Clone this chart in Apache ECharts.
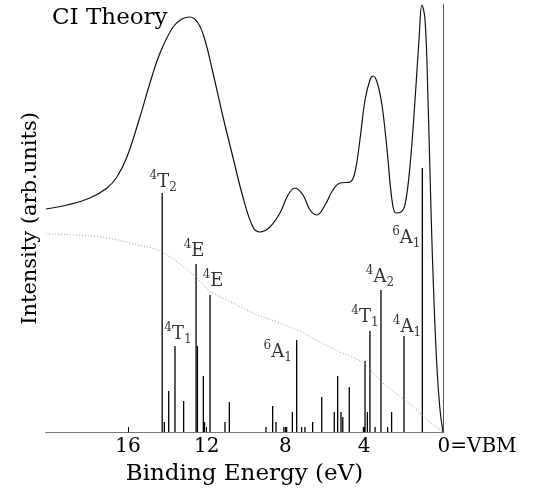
<!DOCTYPE html>
<html>
<head>
<meta charset="utf-8">
<script src="https://cdn.jsdelivr.net/npm/echarts@6/dist/echarts.min.js"></script>
<style>html,body{margin:0;padding:0;background:#fff;}#c{width:549px;height:494px;}</style>
</head>
<body>
<div id="c"></div>
<script>
// Smooth CI spectrum (binding energy eV, intensity arb.)
const curveEnergy = [20.16,19.09,17.93,17.06,16.56,16.05,15.39,14.88,14.37,13.71,13.26,12.85,12.44,12.09,11.68,11.17,10.67,10.16,9.65,9.29,8.79,8.28,7.87,7.52,7.11,6.75,6.40,5.99,5.59,5.23,4.72,4.47,4.22,3.96,3.71,3.56,3.35,3.10,2.84,2.59,2.39,2.13,1.93,1.68,1.42,1.22,1.07,0.91,0.76,0.61,0.46,0.30,0.15,0];
const curveIntensity = [223,227,234,244,255,275,315,349,379,405,413,415,409,392,359,315,275,235,205,200,205,219,237,244,237,222,217,227,242,249,250,260,292,332,352,356,350,327,282,232,219,220,227,265,332,392,427,412,332,222,132,62,22,0];
// Dotted background
const bgEnergy = [20.16,17.42,15.24,14.37,13.36,12.54,11.83,10.67,9.65,8.43,7.41,6.25,5.23,4.06,3.05,1.68,0.66,0];
const bgIntensity = [198,195,186,181,168,155,141,129,119,110,102,90,80,69,49,28,10,0];
// Multiplet sticks
const stickEnergy = [14.26,14.15,13.93,13.61,13.17,12.54,12.47,12.17,12.11,11.83,11.07,10.85,8.99,8.65,8.48,8.08,7.94,7.65,7.43,7.18,7.01,6.62,6.16,5.52,5.35,5.18,5.09,4.76,4.04,3.96,3.84,3.71,3.45,3.15,2.81,2.61,1.98,1.05];
const stickHeight = [239,10,41,86,31,168,86,56,10,137,10,30,5,26,10,5,5,20,92,5,5,10,35,20,56,20,15,45,5,71,20,101,5,142,5,20,96,264];
const stickLabel = ['4T2','','','4T1','','4E','','','','4E','','','','','','','','','6A1','','','','','','','','','','','','','4T1','','4A2','','','4A1','6A1'];
const xTicks = [0,4,8,12,16];
const titleText = 'CI Theory';
const xName = 'Binding Energy (eV)';
const yName = 'Intensity (arb.units)';

const FONT = 'DejaVu Serif';
const labelOffsets = {0:[1,-11],3:[3,-12],5:[-2,-13],9:[3,-14],18:[-19,12],31:[-5,-14],33:[-1,-13],36:[3,-9],37:[-16,70]};

function richLabel(s){
  const m = s.match(/^(\d)([A-Z]+)(\d?)$/);
  let out = '{sup|' + m[1] + '}{main|' + m[2] + '}';
  if (m[3]) out += '{sub|' + m[3] + '}';
  return out;
}

const labelData = [];
stickLabel.forEach((l,i)=>{ if(l) labelData.push({value:[stickEnergy[i], stickHeight[i]], name:l,
  label:{offset: labelOffsets[i] || [0,-12]}}); });

const chart = echarts.init(document.getElementById('c'), null, {renderer:'canvas'});
chart.setOption({
  animation:false,
  backgroundColor:'#fff',
  title:{text:titleText, left:52, top:7, padding:0, textStyle:{fontFamily:FONT, fontSize:23, fontWeight:'normal', color:'#000'}},
  grid:{left:46, right:106, top:5, bottom:62},
  xAxis:[{type:'value', inverse:true, min:0, max:20.16, interval:4,
    axisLine:{show:true, onZero:false, lineStyle:{color:'#000', width:1}},
    axisTick:{show:true, inside:true, length:5, customValues:[4,8,12,16], lineStyle:{color:'#000'}},
    axisLabel:{customValues:xTicks, fontFamily:FONT, fontSize:20, color:'#000', margin:5,
      formatter:v=> v===0 ? '{z|0=VBM}' : String(v),
      rich:{z:{fontFamily:FONT, fontSize:20, color:'#000', padding:[0,0,0,68]}}},
    splitLine:{show:false},
    name:xName, nameLocation:'middle', nameGap:31,
    nameTextStyle:{fontFamily:FONT, fontSize:23, color:'#000'}},
   {type:'value', position:'top', inverse:true, min:0, max:20.16,
    axisLine:{show:true, lineStyle:{color:'#777', width:1}}, axisTick:{show:false}, axisLabel:{show:false}, splitLine:{show:false}}],
  yAxis:[{type:'value', min:0, max:427,
    axisLine:{show:true, lineStyle:{color:'#000', width:1}}, axisTick:{show:false}, axisLabel:{show:false}, splitLine:{show:false},
    name:yName, nameLocation:'middle', nameGap:5,
    nameTextStyle:{fontFamily:FONT, fontSize:21, color:'#000'}},
   {type:'value', position:'right', min:0, max:427,
    axisLine:{show:true, lineStyle:{color:'#555', width:1}}, axisTick:{show:false}, axisLabel:{show:false}, splitLine:{show:false}}],
  series:[
    {type:'line', data:bgEnergy.map((e,i)=>[e,bgIntensity[i]]), smooth:0.4, showSymbol:false,
     lineStyle:{color:'#999', width:1, type:[1,2]}},
    {type:'line', data:curveEnergy.map((e,i)=>[e,curveIntensity[i]]), smooth:0.4, showSymbol:false,
     lineStyle:{color:'#111', width:1.2}},
    {type:'custom', data:stickEnergy.map((e,i)=>[e,stickHeight[i]]),
     renderItem:(params, api)=>{
       const p0 = api.coord([api.value(0), 0]);
       const p1 = api.coord([api.value(0), api.value(1)]);
       return {type:'line', shape:{x1:p0[0], y1:p0[1], x2:p1[0], y2:p1[1]}, style:{stroke:'#000', lineWidth:1.3}};
     }},
    {type:'scatter', data:labelData, symbolSize:0, silent:true,
     label:{show:true, position:'inside', formatter:p=>richLabel(p.name),
       rich:{
         sup:{fontFamily:FONT, fontSize:12, color:'#000', verticalAlign:'top', lineHeight:24},
         main:{fontFamily:FONT, fontSize:18, color:'#000', lineHeight:24},
         sub:{fontFamily:FONT, fontSize:12, color:'#000', verticalAlign:'bottom', lineHeight:24}
       }}}
  ]
});
</script>
</body>
</html>
